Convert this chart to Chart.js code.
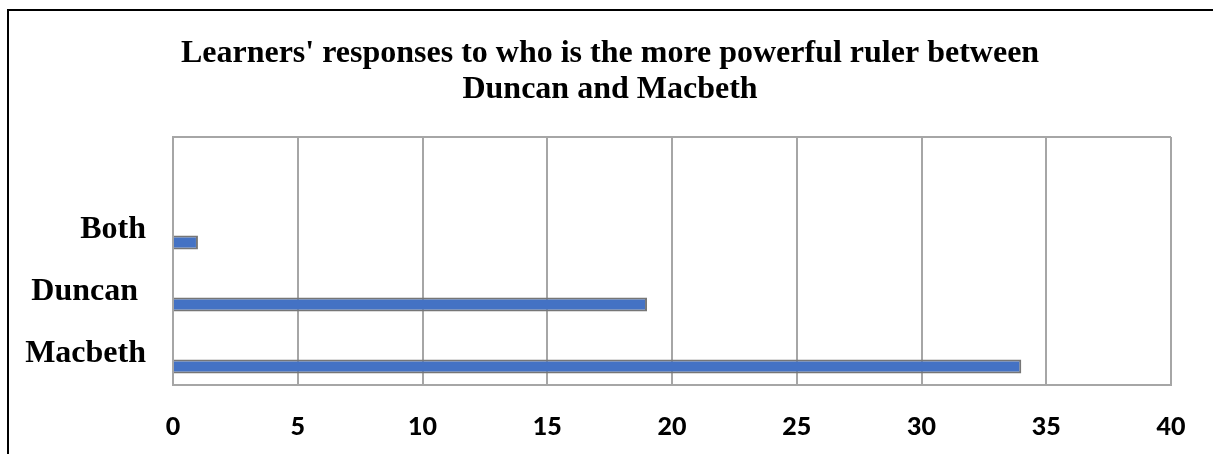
<!DOCTYPE html>
<html>
<head>
<meta charset="utf-8">
<script src="https://cdn.jsdelivr.net/npm/chart.js@4"></script>
<style>
  body { margin: 0; background: #fff; overflow: hidden; }
  #wrap { position: absolute; left: 0; top: 0; width: 1213px; height: 454px; }
  #frame { position: absolute; left: 7px; top: 9px; width: 1300px; height: 600px; border: 2px solid #000; pointer-events: none; }
</style>
</head>
<body>
<div id="wrap"><canvas id="myChart"></canvas></div>
<div id="frame"></div>
<script>
  // categories top to bottom (Excel leaves an empty slot on top)
  const categories = ["", "Both", "Duncan ", "Macbeth"];
  const responses = [null, 1, 19, 34];
  const emptySeries = [null, null, null, null];
  const xTicks = [0, 5, 10, 15, 20, 25, 30, 35, 40];

  const serif = "'Liberation Serif', 'Times New Roman', serif";
  const gridColor = "#a6a6a6";

  // title in the original sits a bit right of the canvas centre
  const titleShift = {
    id: "titleShift",
    afterLayout(chart) {
      if (chart.titleBlock) chart.titleBlock.left += 49;
    },
  };

  const ctx = document.getElementById("myChart");
  new Chart(ctx, {
    type: "bar",
    data: {
      labels: categories,
      datasets: [
        { label: "Series 1", data: emptySeries },
        {
          label: "Responses",
          data: responses,
          backgroundColor: "#4472c4",
          borderColor: "#767676",
          borderWidth: 2,
        },
      ],
    },
    options: {
      indexAxis: "y",
      responsive: true,
      maintainAspectRatio: false,
      animation: false,
      categoryPercentage: 0.8065,
      barPercentage: 0.56,
      layout: { padding: { top: 0, right: 42, bottom: 0, left: 0 } },
      plugins: {
        legend: { display: false },
        tooltip: { enabled: false },
        title: {
          display: true,
          text: [
            "Learners' responses to who is the more powerful ruler between",
            "Duncan and Macbeth",
          ],
          color: "#000",
          font: { family: serif, size: 32, weight: "bold", lineHeight: "36px" },
          padding: { top: 36, bottom: 29 },
        },
      },
      scales: {
        x: {
          min: 0,
          max: 40,
          afterBuildTicks: (scale) => {
            scale.ticks = xTicks.map((v) => ({ value: v }));
          },
          afterFit: (scale) => {
            scale.height = 69;
          },
          grid: { color: gridColor, lineWidth: 2, drawTicks: false },
          border: { color: gridColor, width: 2 },
          ticks: {
            color: "#000",
            padding: 27,
            font: { family: "Lato", size: 25, weight: "900" },
          },
        },
        y: {
          afterFit: (scale) => {
            scale.width = 173;
          },
          grid: {
            drawTicks: false,
            lineWidth: 2,
            color: (c) =>
              c.index === 0 || c.index === categories.length ? gridColor : "transparent",
          },
          border: { color: gridColor, width: 2 },
          ticks: {
            color: "#000",
            padding: 27,
            font: { family: serif, size: 32, weight: "bold" },
          },
        },
      },
    },
    plugins: [titleShift],
  });
</script>
</body>
</html>
